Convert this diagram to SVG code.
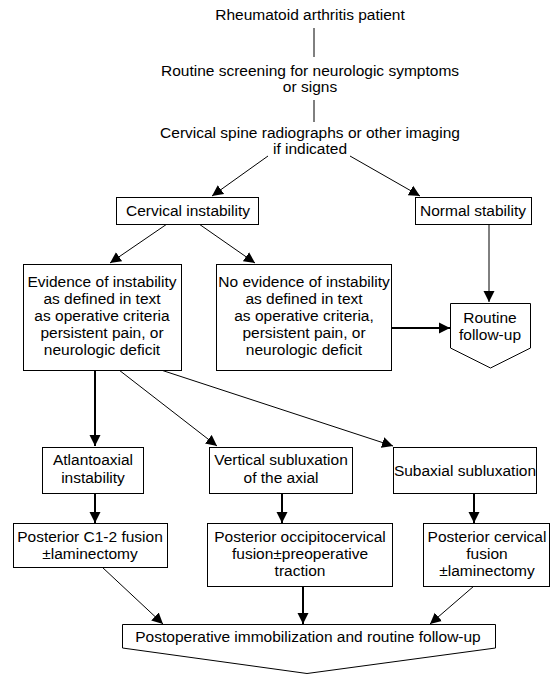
<svg xmlns="http://www.w3.org/2000/svg" width="550" height="675" viewBox="0 0 550 675">
<defs>
<style>
text{font-family:"Liberation Sans",Arial,sans-serif;font-size:15.5px;fill:#000;text-anchor:middle}
.box{fill:#fff;stroke:#000;stroke-width:1}
.thin{stroke:#000;stroke-width:1;fill:none}
.thick{stroke:#000;stroke-width:2;fill:none}
</style>
<marker id="ah" markerUnits="userSpaceOnUse" markerWidth="12" markerHeight="12" viewBox="0 0 12 12" refX="11" refY="6" orient="auto">
<path d="M0,0.5 L11,6 L0,11.5 z" fill="#000"/>
</marker>
</defs>
<rect width="550" height="675" fill="#fff"/>
<g id="connectors">
<line class="thin" x1="314" y1="28" x2="314" y2="57"/>
<line class="thin" x1="314" y1="100" x2="314" y2="122"/>
<line class="thin" x1="268" y1="156" x2="212" y2="196" marker-end="url(#ah)"/>
<line class="thin" x1="350" y1="156" x2="420" y2="196" marker-end="url(#ah)"/>
<line class="thin" x1="167" y1="224" x2="110" y2="263" marker-end="url(#ah)"/>
<line class="thin" x1="199" y1="224" x2="255" y2="263" marker-end="url(#ah)"/>
<line class="thin" x1="489" y1="224" x2="489" y2="302" marker-end="url(#ah)"/>
<line class="thick" x1="392" y1="328" x2="450" y2="328" marker-end="url(#ah)"/>
<line class="thick" x1="95" y1="370" x2="95" y2="446" marker-end="url(#ah)"/>
<line class="thin" x1="119" y1="370" x2="217" y2="446" marker-end="url(#ah)"/>
<line class="thin" x1="161" y1="370" x2="393" y2="446" marker-end="url(#ah)"/>
<line class="thick" x1="95" y1="493" x2="95" y2="523" marker-end="url(#ah)"/>
<line class="thick" x1="282" y1="493" x2="282" y2="523" marker-end="url(#ah)"/>
<line class="thick" x1="474" y1="493" x2="474" y2="523" marker-end="url(#ah)"/>
<line class="thin" x1="102" y1="567" x2="163" y2="624" marker-end="url(#ah)"/>
<line class="thick" x1="303" y1="586" x2="303" y2="624" marker-end="url(#ah)"/>
<line class="thin" x1="474" y1="586" x2="430" y2="624" marker-end="url(#ah)"/>
</g>
<g id="n-patient"><text x="310" y="20">Rheumatoid arthritis patient</text></g>
<g id="n-screening"><text x="310" y="76">Routine screening for neurologic symptoms</text><text x="310" y="92">or signs</text></g>
<g id="n-imaging"><text x="310" y="138">Cervical spine radiographs or other imaging</text><text x="310" y="154">if indicated</text></g>
<g id="n-cervical"><rect class="box" x="116.5" y="197.5" width="142" height="27"/><text x="188" y="216">Cervical instability</text></g>
<g id="n-normal"><rect class="box" x="415.5" y="197.5" width="116" height="27"/><text x="473" y="216">Normal stability</text></g>
<g id="n-evidence"><rect class="box" x="23.5" y="264.5" width="158" height="106"/>
<text x="102" y="287">Evidence of instability</text><text x="102" y="304">as defined in text</text><text x="102" y="321">as operative criteria</text><text x="102" y="338">persistent pain, or</text><text x="102" y="355">neurologic deficit</text></g>
<g id="n-noevidence"><rect class="box" x="216.5" y="264.5" width="175" height="106"/>
<text x="304" y="287">No evidence of instability</text><text x="304" y="304">as defined in text</text><text x="304" y="321">as operative criteria,</text><text x="304" y="338">persistent pain, or</text><text x="304" y="355">neurologic deficit</text></g>
<g id="n-routine"><path class="box" d="M450.5,303.5 H530.5 V348 L490.5,368 L450.5,348 Z"/><text x="490" y="323">Routine</text><text x="490" y="340">follow-up</text></g>
<g id="n-atlanto"><rect class="box" x="42.5" y="447.5" width="101" height="46"/><text x="93" y="465">Atlantoaxial</text><text x="93" y="483">instability</text></g>
<g id="n-vertical"><rect class="box" x="209.5" y="447.5" width="143" height="46"/><text x="281" y="465">Vertical subluxation</text><text x="281" y="483">of the axial</text></g>
<g id="n-subaxial"><rect class="box" x="393.5" y="447.5" width="143" height="46"/><text x="465" y="476">Subaxial subluxation</text></g>
<g id="n-c12"><rect class="box" x="13.5" y="523.5" width="154" height="44"/><text x="90" y="542">Posterior C1-2 fusion</text><text x="90" y="559">±laminectomy</text></g>
<g id="n-occipito"><rect class="box" x="207.5" y="523.5" width="185" height="63"/><text x="300" y="542">Posterior occipitocervical</text><text x="300" y="559">fusion±preoperative</text><text x="300" y="576">traction</text></g>
<g id="n-cervfusion"><rect class="box" x="423.5" y="523.5" width="126" height="63"/><text x="487" y="542">Posterior cervical</text><text x="487" y="559">fusion</text><text x="487" y="576">±laminectomy</text></g>
<g id="n-postop"><path class="box" d="M122.5,624.5 H495.5 V648 L307,673.5 L122.5,648 Z"/><text x="308" y="642">Postoperative immobilization and routine follow-up</text></g>
</svg>
